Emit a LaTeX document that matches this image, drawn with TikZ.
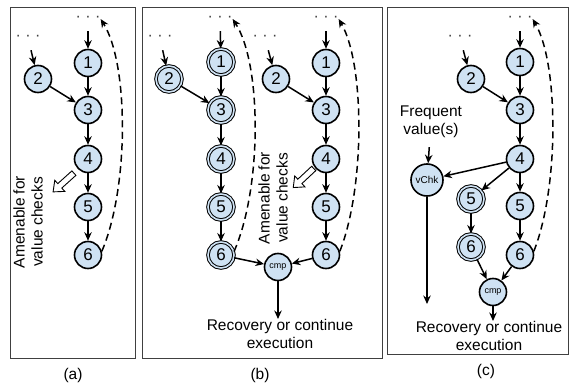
\documentclass[tikz,border=0pt]{standalone}
\usepackage{fontspec}
\setmainfont{Liberation Sans}
\usetikzlibrary{arrows.meta}
\definecolor{nodeblue}{RGB}{207,226,243}
\tikzset{
    vnode/.style={circle,draw,fill=nodeblue,line width=1.6pt,minimum size=27pt,inner sep=0pt,font=\fontsize{17}{17}\selectfont},
    dblnode/.style={vnode,minimum size=26pt,line width=1pt,double=nodeblue,double distance=1.6pt},
    cmpnode/.style={vnode,font=\fontsize{9}{9}\selectfont},
    chknode/.style={vnode,minimum size=32pt,font=\fontsize{10}{10}\selectfont},
    dotsnode/.style={inner sep=0pt,minimum height=24pt,text=black!75,font=\fontsize{16}{16}\selectfont},
    txt/.style={inner sep=0pt,align=center,font=\fontsize{15.5}{18}\selectfont},
    arr/.style={line width=1.5pt,-{Stealth[length=8.5pt,width=7.5pt]}},
    backarr/.style={arr,dash pattern=on 7pt off 4.5pt},
    hollow/.style={draw,fill=white,line width=0.9pt,line join=miter},
    panelbox/.style={draw=black!75,line width=0.8pt}
}
\newcommand{\hintarrow}[2]{
    \begin{scope}[shift={#1},rotate=#2]
        \draw[hollow] (-14,-3) -- (5,-3) -- (5,-7.5) -- (14,0) -- (5,7.5) -- (5,3) -- (-14,3) -- cycle;
    \end{scope}
}
\begin{document}
\begin{tikzpicture}[x=1pt,y=-1pt]
                    \useasboundingbox (0,0) rectangle (574,383);
                    \draw[panelbox] (10,7) rectangle (135,358);
                    \draw[panelbox] (142,7) rectangle (382,358);
                    \draw[panelbox] (387,7) rectangle (568,354);
                    \node[txt] (aCap) at (73,375) {(a)};
                    \node[txt] (bCap) at (260,375) {(b)};
                    \node[txt] (cCap) at (486,371) {(c)};
                    \node[dotsnode] (aT) at (88,19) {· · ·};
                    \node[dotsnode] (aL) at (28,38) {· · ·};
                    \node[vnode] (a1) at (88,63) {1};
                    \node[vnode] (a2) at (38,79) {2};
                    \node[vnode] (a3) at (88,110) {3};
                    \node[vnode] (a4) at (88,159) {4};
                    \node[vnode] (a5) at (88,207) {5};
                    \node[vnode] (a6) at (88,255) {6};
                    \hintarrow{(63.5,182.5)}{222}
                    \node[txt,rotate=90] (aNote) at (28,222) {Amenable for\\value checks};
                    \draw[arr] (aT) -- (a1);
                    \draw[arr] (aL) -- (a2);
                    \draw[arr] (a1) -- (a3);
                    \draw[arr] (a2) -- (a3);
                    \draw[arr] (a3) -- (a4);
                    \draw[arr] (a4) -- (a5);
                    \draw[arr] (a5) -- (a6);
                    \draw[backarr] (a6.15) .. controls (129,188) and (129,64) .. (aT.east);
                    \node[dotsnode] (blT) at (220,19) {· · ·};
                    \node[dotsnode] (blL) at (160,38) {· · ·};
                    \node[dblnode] (bl1) at (221,62) {1};
                    \node[dblnode] (bl2) at (169,79) {2};
                    \node[dblnode] (bl3) at (221,110) {3};
                    \node[dblnode] (bl4) at (221,159) {4};
                    \node[dblnode] (bl5) at (221,207) {5};
                    \node[dblnode] (bl6) at (221,255) {6};
                    \node[dotsnode] (brT) at (326,19) {· · ·};
                    \node[dotsnode] (brL) at (265,38) {· · ·};
                    \node[vnode] (br1) at (326,63) {1};
                    \node[vnode] (br2) at (276,79) {2};
                    \node[vnode] (br3) at (326,110) {3};
                    \node[vnode] (br4) at (326,159) {4};
                    \node[vnode] (br5) at (326,207) {5};
                    \node[vnode] (br6) at (326,255) {6};
                    \node[cmpnode] (bCmp) at (278,267) {cmp};
                    \node[txt,anchor=north] (bOut) at (280,319) {Recovery or continue\\execution};
                    \hintarrow{(303.5,178)}{223}
                    \node[txt,rotate=90] (bNote) at (273,198) {Amenable for\\value checks};
                    \draw[arr] (blT) -- (bl1);
                    \draw[arr] (blL) -- (bl2);
                    \draw[arr] (bl1) -- (bl3);
                    \draw[arr] (bl2) -- (bl3);
                    \draw[arr] (bl3) -- (bl4);
                    \draw[arr] (bl4) -- (bl5);
                    \draw[arr] (bl5) -- (bl6);
                    \draw[arr] (brT) -- (br1);
                    \draw[arr] (brL) -- (br2);
                    \draw[arr] (br1) -- (br3);
                    \draw[arr] (br2) -- (br3);
                    \draw[arr] (br3) -- (br4);
                    \draw[arr] (br4) -- (br5);
                    \draw[arr] (br5) -- (br6);
                    \draw[arr] (bl6) -- (bCmp);
                    \draw[arr] (br6) -- (bCmp);
                    \draw[arr] (bCmp) -- (bCmp |- bOut.north);
                    \draw[backarr] (bl6.15) .. controls (262,188) and (262,64) .. (blT.east);
                    \draw[backarr] (br6.15) .. controls (365,188) and (365,64) .. (brT.east);
                    \node[dotsnode] (cT) at (520,19) {· · ·};
                    \node[dotsnode] (cL) at (460,38) {· · ·};
                    \node[vnode] (c1) at (520,62) {1};
                    \node[vnode] (c2) at (471,79) {2};
                    \node[vnode] (c3) at (520,110) {3};
                    \node[vnode] (c4) at (520,159) {4};
                    \node[vnode] (c5) at (520,206) {5};
                    \node[vnode] (c6) at (520,255) {6};
                    \node[dblnode] (cd5) at (471,199) {5};
                    \node[dblnode] (cd6) at (471,247) {6};
                    \node[chknode] (cChk) at (427,180) {vChk};
                    \node[cmpnode] (cCmp) at (493,292) {cmp};
                    \node[txt] (cFreq) at (431,122) {Frequent\\value(s)};
                    \node[txt,anchor=north] (cOut) at (489,321) {Recovery or continue\\execution};
                    \coordinate (cEnd) at (427,304);
                    \draw[arr] (cT) -- (c1);
                    \draw[arr] (cL) -- (c2);
                    \draw[arr] (c1) -- (c3);
                    \draw[arr] (c2) -- (c3);
                    \draw[arr] (c3) -- (c4);
                    \draw[arr] (c4) -- (c5);
                    \draw[arr] (c5) -- (c6);
                    \draw[arr] (c4) -- (cChk);
                    \draw[arr] (c4) -- (cd5);
                    \draw[arr] (cd5) -- (cd6);
                    \draw[arr] (cd6) -- (cCmp);
                    \draw[arr] (c6) -- (cCmp);
                    \draw[arr,shorten <=9pt] (cFreq) -- (cChk);
                    \draw[arr] (cChk) -- (cEnd);
                    \draw[arr] (cCmp) -- (cCmp |- cOut.north);
                    \draw[backarr] (c6.15) .. controls (559,188) and (559,64) .. (cT.east);
                \end{tikzpicture}
\end{document}
